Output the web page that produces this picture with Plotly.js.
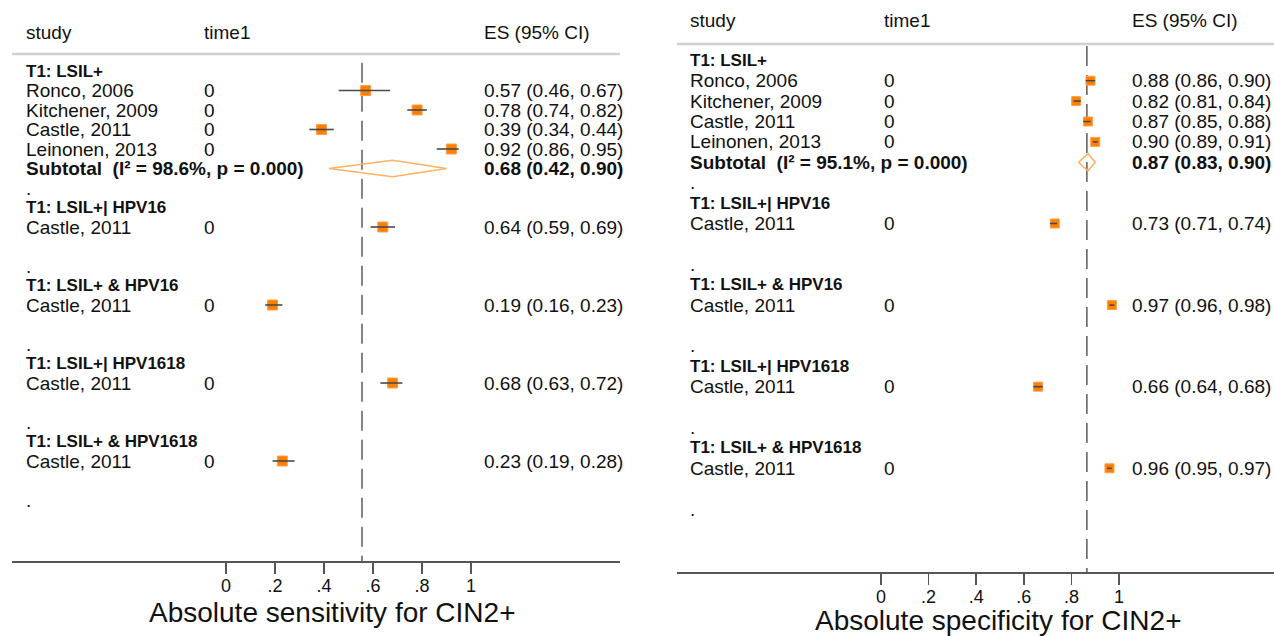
<!DOCTYPE html>
<html>
<head>
<meta charset="utf-8">
<script src="https://cdn.plot.ly/plotly-3.0.1.min.js"></script>
<style>html,body{margin:0;padding:0;background:#fff;}#chart{width:1274px;height:636px;}</style>
</head>
<body>
<div id="chart"></div>
<script>
// ---------------- DATA ----------------
const groupLabels = ['T1: LSIL+', 'T1: LSIL+| HPV16', 'T1: LSIL+ & HPV16', 'T1: LSIL+| HPV1618', 'T1: LSIL+ & HPV1618'];
const groupStudies = [
  ['Ronco, 2006', 'Kitchener, 2009', 'Castle, 2011', 'Leinonen, 2013'],
  ['Castle, 2011'],
  ['Castle, 2011'],
  ['Castle, 2011'],
  ['Castle, 2011']
];
const time1 = 0;

// Sensitivity (left panel)
const sensES = [[0.57, 0.78, 0.39, 0.92], [0.64], [0.19], [0.68], [0.23]];
const sensLo = [[0.46, 0.74, 0.34, 0.86], [0.59], [0.16], [0.63], [0.19]];
const sensHi = [[0.67, 0.82, 0.44, 0.95], [0.69], [0.23], [0.72], [0.28]];
const sensSubES = [0.68], sensSubLo = [0.42], sensSubHi = [0.90], sensSubI2 = [98.6], sensSubP = [0.000];
const sensOverall = 0.555;

// Specificity (right panel)
const specES = [[0.88, 0.82, 0.87, 0.90], [0.73], [0.97], [0.66], [0.96]];
const specLo = [[0.86, 0.81, 0.85, 0.89], [0.71], [0.96], [0.64], [0.95]];
const specHi = [[0.90, 0.84, 0.88, 0.91], [0.74], [0.98], [0.68], [0.97]];
const specSubES = [0.87], specSubLo = [0.83], specSubHi = [0.90], specSubI2 = [95.1], specSubP = [0.000];
const specOverall = 0.865;

const tickVals = [0, 0.2, 0.4, 0.6, 0.8, 1];
const tickText = ['0', '.2', '.4', '.6', '.8', '1'];
const axisTitles = ['Absolute sensitivity for CIN2+', 'Absolute specificity for CIN2+'];
const headerTexts = ['study', 'time1', 'ES (95% CI)'];

// ---------------- LAYOUT CONSTANTS ----------------
const W = 1274, H = 636;
const FONT = 'Liberation Sans, Arial, Helvetica, sans-serif';
const panels = [
  {ax: 'x', ay: 'y', es: sensES, lo: sensLo, hi: sensHi,
   sub: {es: sensSubES, lo: sensSubLo, hi: sensSubHi, i2: sensSubI2, p: sensSubP}, overall: sensOverall,
   axisPx: [12, 620], zeroPx: 226, onePx: 471, axisY: 561, row0: 71, rowH: 19.5,
   colStudy: 24, colTime: 202, colES: 482, titleX: 332, titleY: 612, box: 10,
   headerK: -2.0, sepK: -0.87, dashTopK: -0.42},
  {ax: 'x2', ay: 'y2', es: specES, lo: specLo, hi: specHi,
   sub: {es: specSubES, lo: specSubLo, hi: specSubHi, i2: specSubI2, p: specSubP}, overall: specOverall,
   axisPx: [677, 1274], zeroPx: 881, onePx: 1119, axisY: 572, row0: 60.3, rowH: 20.4,
   colStudy: 688, colTime: 882, colES: 1130, titleX: 998, titleY: 620, box: 9,
   headerK: -1.95, sepK: -0.8, dashTopK: -0.7}
];

const traces = [], annotations = [], shapes = [];
const layout = {
  width: W, height: H, margin: {l: 0, r: 0, t: 0, b: 0},
  paper_bgcolor: '#fff', plot_bgcolor: '#fff', showlegend: false,
  font: {family: FONT, color: '#111'}
};

function ann(text, xpx, yref, k, size, bold, extra) {
  return Object.assign({
    text: bold ? '<b>' + text + '</b>' : text,
    xref: 'paper', x: xpx / W, yref: yref, y: k,
    xanchor: 'left', yanchor: 'middle', showarrow: false,
    font: {family: FONT, size: size, color: '#111'}
  }, extra || {});
}
const fmt = (e, l, h) => e.toFixed(2) + ' (' + l.toFixed(2) + ', ' + h.toFixed(2) + ')';
const NB = '\u00a0';

panels.forEach((P, pi) => {
  const sfx = pi === 0 ? '' : '2';
  const perUnit = P.onePx - P.zeroPx;
  const xr = [(P.axisPx[0] - P.zeroPx) / perUnit, (P.axisPx[1] - P.zeroPx) / perUnit];
  const kTop = -P.row0 / P.rowH;
  const kBot = (P.axisY - P.row0) / P.rowH;
  layout['xaxis' + sfx] = {
    domain: [P.axisPx[0] / W, P.axisPx[1] / W], range: xr, anchor: 'y' + sfx,
    showline: true, linecolor: '#555', linewidth: 1.5, ticks: 'outside', ticklen: 11,
    tickwidth: 1.5, tickcolor: '#555', tickvals: tickVals, ticktext: tickText,
    ticklabelstandoff: -3,
    tickfont: {family: FONT, size: 18, color: '#111'}, showgrid: false, zeroline: false, fixedrange: true
  };
  layout['yaxis' + sfx] = {
    domain: [1 - P.axisY / H, 1], range: [kBot, kTop], anchor: 'x' + sfx,
    visible: false, showgrid: false, zeroline: false, fixedrange: true
  };

  // header
  annotations.push(ann(headerTexts[0], P.colStudy, P.ay, P.headerK, 19, false));
  annotations.push(ann(headerTexts[1], P.colTime, P.ay, P.headerK, 19, false));
  annotations.push(ann(headerTexts[2], P.colES, P.ay, P.headerK, 19, false));
  shapes.push({type: 'line', xref: P.ax + ' domain', x0: 0, x1: 1, yref: P.ay, y0: P.sepK, y1: P.sepK,
               line: {color: '#d0d0d0', width: 2.5}, layer: 'below'});
  // reference dashed line
  shapes.push({type: 'line', xref: P.ax, x0: P.overall, x1: P.overall, yref: P.ay, y0: P.dashTopK, y1: kBot,
               line: {color: '#666', width: 1.6, dash: '20px,9px'}, layer: 'below'});

  const mx = [], my = [], cx = [], cy = [];
  let k = 0, subIdx = 0;
  groupLabels.forEach((g, gi) => {
    annotations.push(ann(g, P.colStudy, P.ay, k, 17, true));
    k++;
    groupStudies[gi].forEach((s, si) => {
      const e = P.es[gi][si], l = P.lo[gi][si], h = P.hi[gi][si];
      annotations.push(ann(s, P.colStudy, P.ay, k, 19, false));
      annotations.push(ann(String(time1), P.colTime, P.ay, k, 19, false));
      annotations.push(ann(fmt(e, l, h), P.colES, P.ay, k, 19, false));
      mx.push(e); my.push(k);
      cx.push(l, h, null); cy.push(k, k, null);
      k++;
    });
    if (groupStudies[gi].length > 1) {
      const S = P.sub;
      const e = S.es[subIdx], l = S.lo[subIdx], h = S.hi[subIdx];
      annotations.push(ann('Subtotal' + NB + NB + '(I² = ' + S.i2[subIdx].toFixed(1) + '%, p = ' + S.p[subIdx].toFixed(3) + ')',
                           P.colStudy, P.ay, k, 19, true));
      annotations.push(ann(fmt(e, l, h), P.colES, P.ay, k, 19, true));
      const d = 0.42;
      traces.push({type: 'scatter', mode: 'lines', xaxis: P.ax, yaxis: P.ay,
        x: [l, e, h, e, l], y: [k, k - d, k, k + d, k],
        line: {color: '#ffb266', width: 1.6}, hoverinfo: 'skip'});
      subIdx++;
    }
    k++;
    annotations.push(ann('.', P.colStudy, P.ay, k, 19, false));
    k++;
  });

  traces.push({type: 'scatter', mode: 'markers', xaxis: P.ax, yaxis: P.ay, x: mx, y: my,
    marker: {symbol: 'square', size: P.box, color: '#ff7f00', line: {color: '#ffa04d', width: 1}}, hoverinfo: 'skip'});
  traces.push({type: 'scatter', mode: 'lines', xaxis: P.ax, yaxis: P.ay, x: cx, y: cy,
    line: {color: '#4a4a4a', width: 1.6}, connectgaps: false, hoverinfo: 'skip'});

  // axis title
  annotations.push({text: axisTitles[pi], xref: 'paper', x: P.titleX / W, yref: 'paper', y: 1 - P.titleY / H,
    xanchor: 'center', yanchor: 'middle', showarrow: false, font: {family: FONT, size: 28, color: '#111'}});
});

layout.annotations = annotations;
layout.shapes = shapes;
Plotly.newPlot('chart', traces, layout, {displayModeBar: false, staticPlot: true});
</script>
</body>
</html>
